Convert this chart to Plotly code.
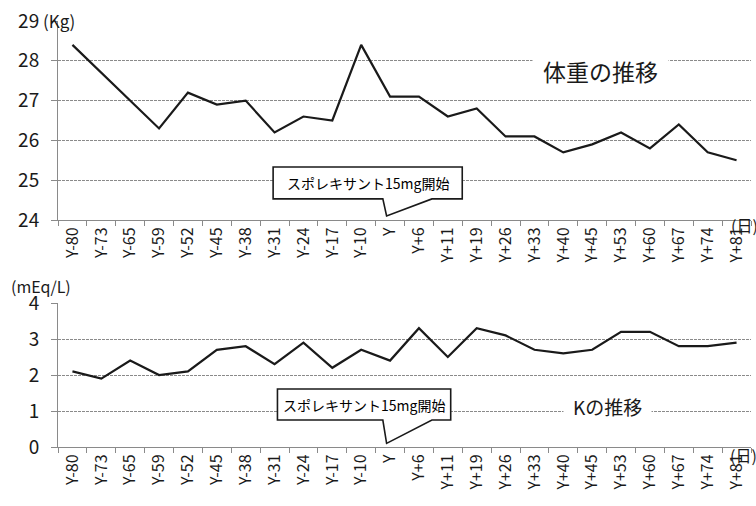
import plotly.graph_objects as go

# Days relative to the start day "Y"
days = ["Y-80", "Y-73", "Y-65", "Y-59", "Y-52", "Y-45", "Y-38", "Y-31", "Y-24",
        "Y-17", "Y-10", "Y", "Y+6", "Y+11", "Y+19", "Y+26", "Y+33", "Y+40",
        "Y+45", "Y+53", "Y+60", "Y+67", "Y+74", "Y+81"]

# Body weight (kg)
weight = [28.4, 27.7, 27.0, 26.3, 27.2, 26.9, 27.0, 26.2, 26.6, 26.5, 28.4, 27.1,
          27.1, 26.6, 26.8, 26.1, 26.1, 25.7, 25.9, 26.2, 25.8, 26.4, 25.7, 25.5]

# Serum potassium (mEq/L)
potassium = [2.1, 1.9, 2.4, 2.0, 2.1, 2.7, 2.8, 2.3, 2.9, 2.2, 2.7, 2.4,
             3.3, 2.5, 3.3, 3.1, 2.7, 2.6, 2.7, 3.2, 3.2, 2.8, 2.8, 2.9]

weight_ticks = [24, 25, 26, 27, 28, 29]
k_ticks = [0, 1, 2, 3, 4]

W, H = 756, 506
ML, MR = 58, 5
PW = W - ML - MR
FONT = "Noto Sans CJK JP, Noto Sans, sans-serif"
INK = "#1a1a1a"
GRID = "#8a8a8a"


def px(xp):
    return (xp - ML) / PW


def py(yp):
    return (H - yp) / H


fig = go.Figure()
fig.add_trace(go.Scatter(x=days, y=weight, mode="lines", xaxis="x", yaxis="y",
                         line=dict(color=INK, width=2.2), showlegend=False))
fig.add_trace(go.Scatter(x=days, y=potassium, mode="lines", xaxis="x2", yaxis="y2",
                         line=dict(color=INK, width=2.2), showlegend=False))

xcommon = dict(type="category", categoryorder="array", categoryarray=days,
               range=[-0.5, len(days) - 0.5], tickangle=-90,
               tickfont=dict(family=FONT, size=16, color=INK),
               ticks="outside", tickson="boundaries", ticklen=5, tickcolor=GRID,
               showline=True, linecolor=GRID, linewidth=1,
               showgrid=False, zeroline=False, automargin=False, fixedrange=True)
ycommon = dict(tickfont=dict(family=FONT, size=19, color=INK),
               ticks="outside", ticklen=6, tickcolor=GRID, ticklabelstandoff=8,
               showline=True, linecolor=GRID, linewidth=1,
               showgrid=True, gridcolor=GRID, gridwidth=1, griddash="3px,1px",
               zeroline=False, automargin=False, fixedrange=True)

fig.update_layout(
    width=W, height=H,
    margin=dict(l=ML, r=MR, t=0, b=0),
    paper_bgcolor="white", plot_bgcolor="white",
    xaxis=dict(domain=[0, 1], anchor="y", **xcommon),
    yaxis=dict(domain=[py(220), py(21)], anchor="x", range=[24, 29],
               tickvals=weight_ticks, **ycommon),
    xaxis2=dict(domain=[0, 1], anchor="y2", **xcommon),
    yaxis2=dict(domain=[py(447), py(303)], anchor="x2", range=[0, 4],
                tickvals=k_ticks, **ycommon),
)

# Callouts marking the start of the drug, pointing at day "Y"
start = days.index("Y")
callouts = [
    ("x", "y", 4.05, 2.5, 24.53, 25.33, 24.10),
    ("x2", "y2", 3.9, 2.1, 0.75, 1.61, 0.10),
]
for xr, yr, left, right, yb, yt, tip in callouts:
    x0, x1 = start - left, start + right
    b1, b2, tx = start - 0.25, start + 1.45, start - 0.12
    path = (f"M {x0},{yt} L {x1},{yt} L {x1},{yb} L {b2},{yb} "
            f"L {tx},{tip} L {b1},{yb} L {x0},{yb} Z")
    fig.add_shape(type="path", path=path, xref=xr, yref=yr,
                  fillcolor="white", line=dict(color=INK, width=1.6), layer="above")
    fig.add_annotation(x=(x0 + x1) / 2, y=(yb + yt) / 2, xref=xr, yref=yr,
                       xanchor="center", yanchor="middle",
                       text="スポレキサント15mg開始", showarrow=False,
                       font=dict(family=FONT, size=14, color="black"))


def label(xp, yp, text, size, anchor="center", **kw):
    fig.add_annotation(x=px(xp), y=py(yp), xref="paper", yref="paper",
                       xanchor=anchor, yanchor="middle", text=text,
                       showarrow=False, font=dict(family=FONT, size=size, color=INK),
                       **kw)


# Panel titles and units
label(600, 71, "体重の推移", 23, bgcolor="white", borderpad=10)
label(607, 406, "Kの推移", 19, bgcolor="white", borderpad=9)
label(41, 21, "(Kg)", 17, anchor="left")
label(9, 286, "(mEq/L)", 16, anchor="left")
label(729, 225, "(日)", 16, anchor="left")
label(728, 455, "(日)", 16, anchor="left")

fig.write_html("out.html")
